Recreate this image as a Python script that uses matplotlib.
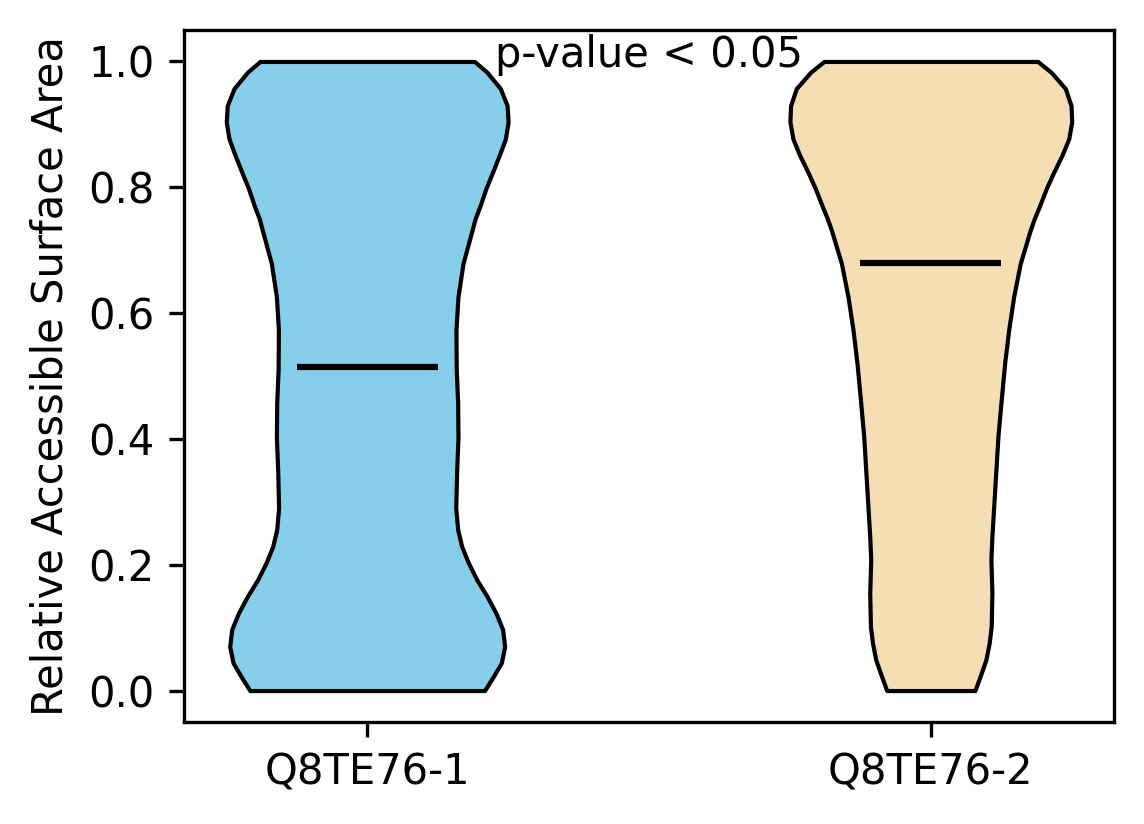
import matplotlib
matplotlib.use("Agg")
import matplotlib.pyplot as plt
import numpy as np

# Categories
labels = ["Q8TE76-1", "Q8TE76-2"]
colors = ["#87CEEB", "#F5DEB3"]

# Density profiles (value, relative density)
v1_y = [0.0, 0.023, 0.044, 0.070, 0.097, 0.123, 0.150, 0.176, 0.203, 0.229,
        0.256, 0.290, 0.349, 0.402, 0.457, 0.510, 0.573, 0.626, 0.679, 0.732,
        0.750, 0.771, 0.798, 0.824, 0.851, 0.877, 0.904, 0.930, 0.957, 0.983,
        1.0]
v1_d = [116.3, 125.3, 133, 136.3, 134.3, 127.7, 118.7, 108.7, 100.3, 93.7,
        89.7, 87.8, 88.7, 90, 89.7, 88.3, 88, 90, 95, 104,
        107, 112, 117.7, 124.3, 131, 137, 139.7, 138.7, 132, 118.7,
        106.3]

v2_y = [0.0, 0.023, 0.049, 0.076, 0.102, 0.155, 0.208, 0.245, 0.298, 0.351,
        0.404, 0.457, 0.520, 0.573, 0.626, 0.679, 0.732, 0.750, 0.771, 0.798,
        0.824, 0.851, 0.877, 0.904, 0.930, 0.957, 0.983, 1.0]
v2_d = [44, 49.3, 55, 58.3, 60.3, 61, 60, 61, 63, 65,
        67, 70, 73.7, 77.7, 82.7, 89.3, 99.3, 103.3, 108.7, 115.3,
        122.7, 131, 137.7, 140.7, 140, 134.3, 120, 106.7]

medians = [0.515, 0.680]
mins = [0.0, 0.0]
maxs = [1.0, 1.0]

fig = plt.figure(figsize=(1144 / 300, 824 / 300), dpi=300)
ax = fig.add_axes([184 / 1144, 1 - 722 / 824, (1114 - 184) / 1144, (722 - 30) / 824])

vpstats = []
for ys, ds, med, mn, mx in [(v1_y, v1_d, medians[0], mins[0], maxs[0]),
                            (v2_y, v2_d, medians[1], mins[1], maxs[1])]:
    vpstats.append(dict(coords=np.array(ys), vals=np.array(ds), mean=med,
                        median=med, min=mn, max=mx, quantiles=[]))

parts = ax.violin(vpstats, positions=[1, 2], widths=0.5, showmeans=False,
                  showextrema=False, showmedians=True)
for body, c in zip(parts["bodies"], colors):
    body.set_facecolor(c)
    body.set_edgecolor("black")
    body.set_alpha(1)
    body.set_linewidth(1.0)
    body.set_joinstyle("round")
parts["cmedians"].set_color("black")
parts["cmedians"].set_linewidth(1.5)

ax.set_xticks([1, 2])
ax.set_xticklabels(labels)
ax.set_yticks([0.0, 0.2, 0.4, 0.6, 0.8, 1.0])
ax.set_ylabel("Relative Accessible Surface Area")
ax.text(1.5, 0.991, "p-value < 0.05", ha="center", va="baseline", fontsize=10)

fig.savefig("out.png", dpi=300)
